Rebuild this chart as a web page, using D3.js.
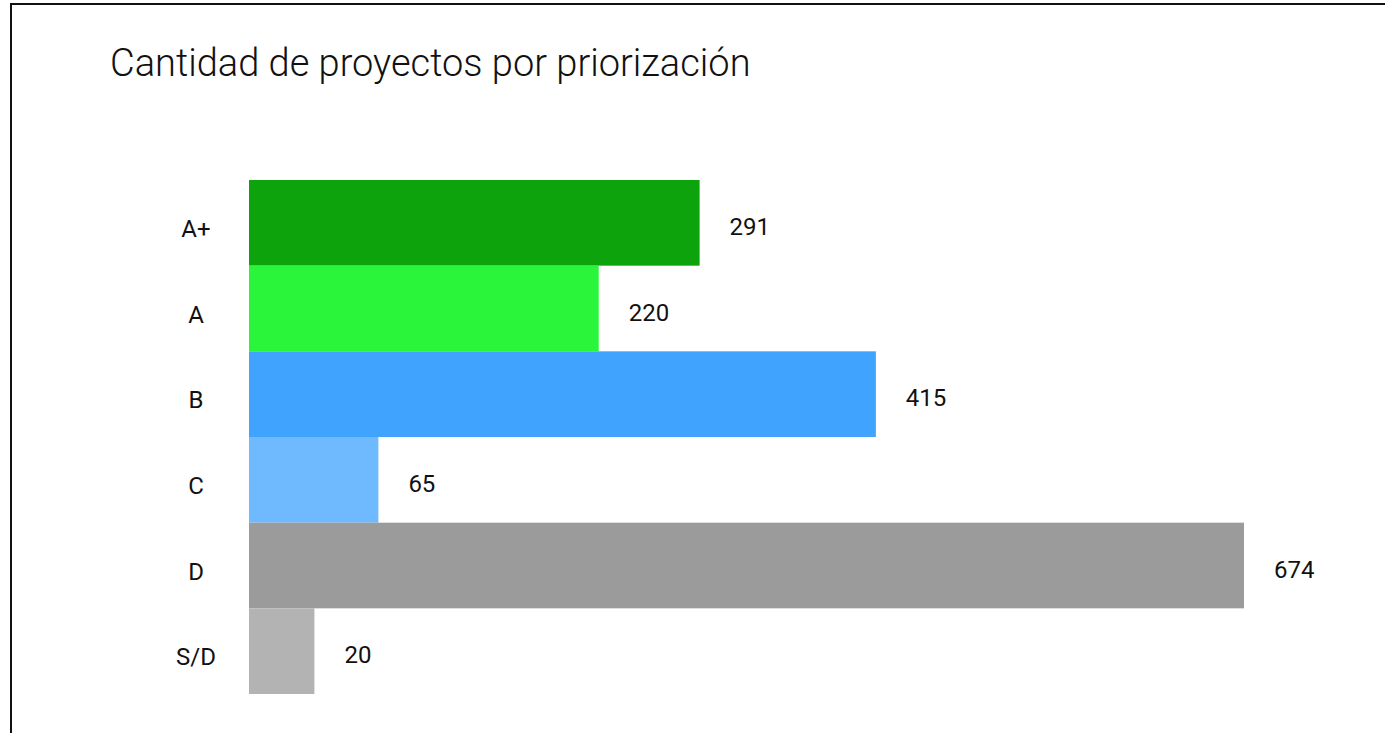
<!DOCTYPE html>
<html>
<head>
<meta charset="utf-8">
<script src="https://cdn.jsdelivr.net/npm/d3@7"></script>
<style>
  html, body { margin: 0; padding: 0; background: #fff; overflow: hidden; }
  text { font-family: Roboto, "Noto Sans", sans-serif; fill: #111; }
</style>
</head>
<body>
<div class="js-chart"></div>
<script>
let categories = ["A+", "A", "B", "C", "D", "S/D"];
let values = [291, 220, 415, 65, 674, 20];
let colors = ["#0da30d", "#2af53a", "#40a4ff", "#6fb9ff", "#9b9b9b", "#b3b3b3"];
let title = "Cantidad de proyectos por priorización";

let width = 1385,
    height = 733;

let svg = d3.select(".js-chart").append("svg")
    .attr("width", width)
    .attr("height", height);

// frame (right and bottom edges fall outside the window)
svg.append("rect")
    .attr("x", 11).attr("y", 4)
    .attr("width", 1420).attr("height", 800)
    .attr("fill", "none")
    .attr("stroke", "#111")
    .attr("stroke-width", 2);

svg.append("text")
    .attr("x", 110).attr("y", 76)
    .style("font-size", "38px")
    .style("font-weight", 300)
    .text(title);

let y = d3.scaleBand().domain(categories).range([180, 694]).padding(0);
// bars keep a small minimum length, as in the original
let x = d3.scaleLinear().domain([0, d3.max(values)]).range([37, 995]);
let x0 = 249;

let rows = categories.map((c, i) => ({cat: c, value: values[i], color: colors[i]}));

svg.selectAll("rect.bar")
    .data(rows)
    .join("rect")
    .attr("class", "bar")
    .attr("x", x0)
    .attr("y", d => y(d.cat))
    .attr("width", d => x(d.value))
    .attr("height", y.bandwidth())
    .attr("fill", d => d.color);

svg.selectAll("text.cat")
    .data(rows)
    .join("text")
    .attr("class", "cat")
    .attr("x", 196)
    .attr("y", d => y(d.cat) + y.bandwidth() / 2 + 14)
    .attr("text-anchor", "middle")
    .style("font-size", "24px")
    .text(d => d.cat);

svg.selectAll("text.val")
    .data(rows)
    .join("text")
    .attr("class", "val")
    .attr("x", d => x0 + x(d.value) + 30)
    .attr("y", d => y(d.cat) + y.bandwidth() / 2 + 12)
    .style("font-size", "24px")
    .text(d => d.value);
</script>
</body>
</html>
